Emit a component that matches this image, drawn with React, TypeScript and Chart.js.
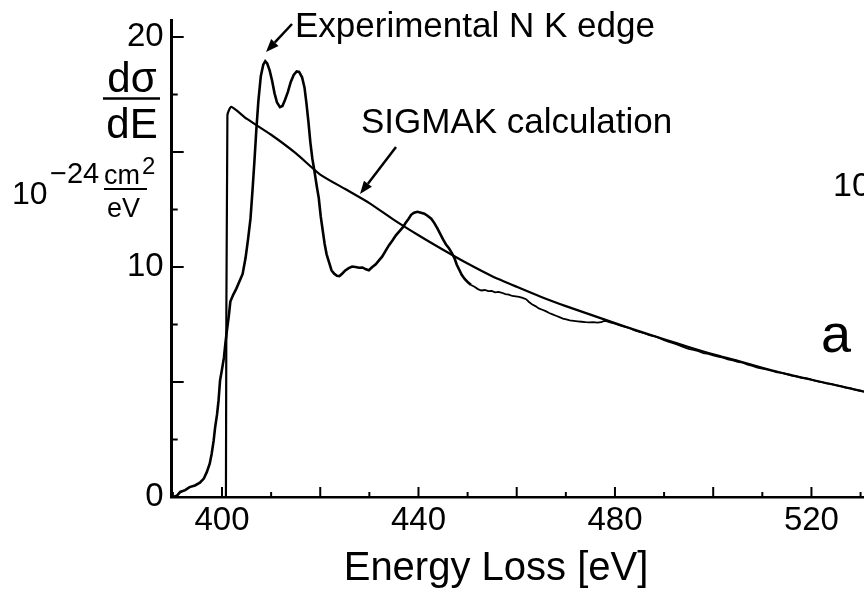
import React, { useEffect, useRef } from 'react';
import { Chart, registerables } from 'chart.js';
Chart.register(...registerables);

const FONT = '"Liberation Sans", Arial, Helvetica, sans-serif';

// Experimental N K edge (energy loss in eV, cross-section in 1e-24 cm^2/eV)
const expEnergy = [
  390.0, 390.8, 391.5, 392.5, 393.4, 394.5, 395.5, 396.3, 396.9, 397.5, 397.9, 398.3, 398.6, 399.0, 399.3, 399.6,
  400.0, 400.4, 400.7, 401.0, 401.4, 401.7, 402.3, 402.9, 403.5, 404.2, 404.8, 405.3, 405.8, 406.2, 406.6, 407.0,
  407.4, 407.9, 408.4, 408.8, 409.2, 409.7, 410.2, 410.7, 411.2, 411.8, 412.3, 412.8, 413.4, 414.0, 414.6, 415.2,
  415.7, 416.3, 416.8, 417.2, 417.6, 418.0, 418.4, 418.8, 419.3, 419.7, 420.1, 420.5, 420.9, 421.3, 421.8, 422.3,
  422.8, 423.4, 423.9, 424.5, 425.1, 425.8, 426.5, 427.2, 427.9, 428.6, 429.3, 429.9, 430.6, 431.3, 432.0, 432.6,
  433.3, 434.0, 434.7, 435.4, 436.1, 436.8, 437.4, 438.0, 438.5, 439.1, 439.8, 440.5, 441.2, 441.9, 442.6, 443.2,
  443.8, 444.4, 445.0, 445.6, 446.2, 446.8, 447.3, 447.8, 448.3, 448.8, 449.4, 450.0, 450.7, 451.4, 452.1, 452.8,
  453.5, 454.2, 454.9, 455.6, 456.3, 457.0, 457.7, 458.4, 459.1, 459.8, 460.5, 461.2, 461.9, 462.5, 463.1, 463.8,
  464.5, 465.2, 465.9, 466.6, 467.3, 468.0, 468.7, 469.4, 470.1, 470.8, 471.6, 472.4, 473.2, 474.0, 474.8, 475.6,
  476.4, 477.2, 477.8, 478.4, 479.2, 480.0, 481.0, 482.0, 483.0, 484.0, 485.0, 486.0, 487.0, 488.0, 489.0, 490.0,
  491.0, 492.0, 493.0, 494.0, 495.0, 496.0, 497.0, 498.0, 499.0, 500.0, 501.0, 502.0, 503.0, 504.0, 505.0, 506.0,
  507.0, 508.0, 509.0, 510.0, 511.0, 512.0, 513.0, 514.0, 515.0, 516.0, 517.0, 518.0, 519.0, 520.0, 521.0, 522.0,
  523.0, 524.0, 525.0, 526.0, 527.0, 528.0, 529.0, 530.0, 530.7,
];
const expSignal = [
  0.0, 0.05, 0.22, 0.30, 0.43, 0.50, 0.62, 0.80, 1.08, 1.45, 1.88, 2.45, 3.03, 3.60, 4.20, 5.06,
  5.55, 6.07, 6.70, 7.23, 7.90, 8.50, 8.80, 9.05, 9.35, 9.70, 10.40, 11.20, 12.10, 13.30, 14.60, 16.00,
  17.20, 18.30, 18.80, 18.95, 18.85, 18.55, 18.10, 17.55, 17.15, 16.95, 17.00, 17.25, 17.60, 18.05, 18.35, 18.50,
  18.48, 18.25, 17.80, 17.10, 16.30, 15.40, 14.70, 14.20, 13.50, 13.00, 12.20, 11.60, 11.00, 10.55, 10.20, 9.85,
  9.72, 9.62, 9.60, 9.72, 9.85, 9.95, 10.02, 10.00, 9.97, 9.98, 9.90, 9.86, 10.00, 10.12, 10.30, 10.45,
  10.70, 10.95, 11.15, 11.38, 11.55, 11.72, 11.92, 12.10, 12.27, 12.36, 12.40, 12.36, 12.32, 12.22, 12.10, 11.92,
  11.70, 11.45, 11.20, 10.98, 10.82, 10.60, 10.40, 10.10, 9.88, 9.66, 9.48, 9.35, 9.22, 9.14, 9.04, 8.98,
  9.00, 8.95, 8.96, 8.90, 8.92, 8.88, 8.82, 8.80, 8.74, 8.72, 8.70, 8.66, 8.60, 8.48, 8.38, 8.30,
  8.20, 8.14, 8.08, 8.00, 7.94, 7.88, 7.82, 7.76, 7.72, 7.68, 7.66, 7.64, 7.62, 7.60, 7.59, 7.60,
  7.58, 7.60, 7.66, 7.64, 7.58, 7.54, 7.46, 7.40, 7.34, 7.24, 7.18, 7.12, 7.04, 7.00, 6.92, 6.82,
  6.74, 6.68, 6.60, 6.52, 6.44, 6.40, 6.34, 6.26, 6.22, 6.16, 6.10, 6.06, 5.98, 5.94, 5.88, 5.84,
  5.76, 5.70, 5.62, 5.58, 5.54, 5.48, 5.42, 5.40, 5.34, 5.28, 5.24, 5.18, 5.16, 5.10, 5.04, 5.00,
  4.94, 4.92, 4.86, 4.82, 4.76, 4.72, 4.66, 4.62, 4.58,
];

// SIGMAK calculation
const sigmakEnergy = [
  400.8, 401.1, 401.9, 405, 410, 415, 420, 425, 430, 435, 440, 445, 450, 455, 460, 465,
  470, 475, 480, 485, 490, 495, 500, 505, 510, 515, 520, 525, 530.7,
];
const sigmakSignal = [
  0, 16.6, 16.96, 16.45, 15.75, 14.95, 14.02, 13.40, 12.78, 12.05, 11.38, 10.75, 10.15, 9.60, 9.14, 8.70,
  8.30, 7.93, 7.56, 7.20, 6.86, 6.52, 6.20, 5.92, 5.62, 5.34, 5.10, 4.86, 4.58,
];

const xLabelTicks = [400, 440, 480, 520];
const yLabelTicks = [0, 10, 20];
const xMinorTicks = [390, 400, 410, 420, 430, 440, 450, 460, 470, 480, 490, 500, 510, 520, 530];
const yMinorTicks = [0, 2.5, 5, 7.5, 10, 12.5, 15, 17.5, 20];

function arrow(ctx: CanvasRenderingContext2D, x1: number, y1: number, x2: number, y2: number) {
  const ang = Math.atan2(y2 - y1, x2 - x1);
  const hl = 13, hw = 5;
  const bx = x2 - hl * Math.cos(ang), by = y2 - hl * Math.sin(ang);
  ctx.beginPath();
  ctx.moveTo(x1, y1);
  ctx.lineTo(bx, by);
  ctx.lineWidth = 2.5;
  ctx.stroke();
  ctx.beginPath();
  ctx.moveTo(x2, y2);
  ctx.lineTo(bx + hw * Math.sin(ang), by - hw * Math.cos(ang));
  ctx.lineTo(bx - hw * Math.sin(ang), by + hw * Math.cos(ang));
  ctx.closePath();
  ctx.fill();
}

const decorPlugin = {
  id: 'decor',
  afterDraw(chart: any) {
    const ctx: CanvasRenderingContext2D = chart.ctx;
    const xs = chart.scales.x, ys = chart.scales.y;
    const left = chart.chartArea.left, bottom = chart.chartArea.bottom;
    ctx.save();
    ctx.strokeStyle = '#000';
    ctx.fillStyle = '#000';
    ctx.lineWidth = 2;
    // inward y ticks
    yMinorTicks.forEach((v) => {
      const y = ys.getPixelForValue(v);
      const len = v % 5 === 0 ? 12 : 6;
      ctx.beginPath();
      ctx.moveTo(left, y);
      ctx.lineTo(left + len, y);
      ctx.stroke();
    });
    // inward x ticks
    xMinorTicks.forEach((v) => {
      const x = xs.getPixelForValue(v);
      const len = v % 20 === 0 ? 10 : 5;
      ctx.beginPath();
      ctx.moveTo(x, bottom);
      ctx.lineTo(x, bottom - len);
      ctx.stroke();
    });

    ctx.textBaseline = 'alphabetic';
    // axis title
    ctx.font = `40px ${FONT}`;
    ctx.textAlign = 'center';
    ctx.fillText('Energy Loss [eV]', 496, 580);

    // y unit label: dσ/dE
    ctx.font = `42px ${FONT}`;
    ctx.fillText('dσ', 132, 92);
    ctx.fillText('dE', 132, 138);
    ctx.lineWidth = 2.5;
    ctx.beginPath();
    ctx.moveTo(103, 98.5);
    ctx.lineTo(160, 98.5);
    ctx.stroke();

    ctx.textAlign = 'left';
    ctx.font = `32px ${FONT}`;
    ctx.fillText('10', 12, 204);
    ctx.font = `29px ${FONT}`;
    ctx.fillText('\u221224', 50, 183);
    ctx.font = `27px ${FONT}`;
    ctx.fillText('cm', 104, 184);
    ctx.fillText('eV', 107, 217);
    ctx.font = `24px ${FONT}`;
    ctx.fillText('2', 142, 174);
    ctx.lineWidth = 2;
    ctx.beginPath();
    ctx.moveTo(104, 189);
    ctx.lineTo(147, 189);
    ctx.stroke();

    // annotations
    ctx.font = `35px ${FONT}`;
    ctx.fillText('Experimental N K edge', 295, 37);
    ctx.fillText('SIGMAK calculation', 361, 133);
    arrow(ctx, 292, 24, 266, 52);
    arrow(ctx, 396, 147, 360, 194);

    // neighbouring panel remnants
    ctx.font = `34px ${FONT}`;
    ctx.fillText('10', 833, 196);
    ctx.font = `54px ${FONT}`;
    ctx.fillText('a', 821, 352);
    ctx.restore();
  },
};

export default function App() {
  const ref = useRef<HTMLCanvasElement>(null);
  useEffect(() => {
    document.body.style.margin = '0';
    const canvas = ref.current!;
    const chart = new Chart(canvas, {
      type: 'line',
      data: {
        datasets: [
          {
            label: 'Experimental N K edge',
            data: expEnergy.map((x, i) => ({ x, y: expSignal[i] })),
            borderColor: '#000',
            borderWidth: 2.5,
            pointRadius: 0,
            tension: 0,
            segment: {
              borderWidth: (c: any) => (c.p0.parsed.x > 450 ? 1.8 : 2.6),
            },
          },
          {
            label: 'SIGMAK calculation',
            data: sigmakEnergy.map((x, i) => ({ x, y: sigmakSignal[i] })),
            borderColor: '#000',
            borderWidth: 2.2,
            pointRadius: 0,
            tension: 0.2,
          },
        ],
      },
      options: {
        animation: false,
        responsive: false,
        layout: { padding: { top: 20, left: 0, right: 0, bottom: 0 } },
        plugins: { legend: { display: false }, tooltip: { enabled: false } },
        scales: {
          x: {
            type: 'linear',
            min: 389.76,
            max: 530.7,
            grid: { display: false, drawTicks: false },
            border: { display: true, color: '#000', width: 2.5 },
            ticks: {
              padding: 4,
              color: '#000',
              autoSkip: false,
              maxRotation: 0,
              font: { family: FONT, size: 33 },
            },
            afterBuildTicks: (s: any) => {
              s.ticks = xLabelTicks.map((v) => ({ value: v }));
            },
            afterFit: (s: any) => {
              s.height = 93;
              s.paddingLeft = 0;
              s.paddingRight = 0;
            },
          },
          y: {
            type: 'linear',
            min: 0,
            max: 20.74,
            grid: { display: false, drawTicks: false },
            border: { display: true, color: '#000', width: 3 },
            ticks: {
              padding: 8,
              color: '#000',
              autoSkip: false,
              font: { family: FONT, size: 33 },
            },
            afterBuildTicks: (s: any) => {
              s.ticks = yLabelTicks.map((v) => ({ value: v }));
            },
            afterFit: (s: any) => {
              s.width = 171.7;
              s.paddingTop = 0;
              s.paddingBottom = 0;
            },
          },
        },
      },
      plugins: [decorPlugin],
    });
    return () => chart.destroy();
  }, []);
  return <canvas ref={ref} width={864} height={590} style={{ display: 'block' }} />;
}
